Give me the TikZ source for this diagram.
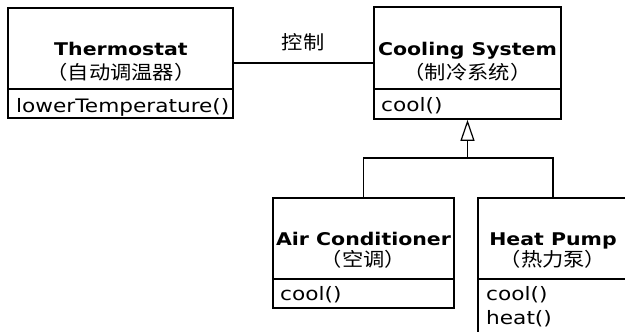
\documentclass[tikz,border=0pt]{standalone}
\usepackage{fontspec}
\setmainfont{DejaVu Sans}[FakeStretch=1.17]
\newfontfamily\cjk{Noto Sans CJK SC}[FakeStretch=1.12]
\usetikzlibrary{arrows.meta}
\begin{document}
\begin{tikzpicture}[x=1pt,y=-1pt,
  box/.style={draw=black,line width=1.6pt,rectangle,inner sep=0pt},
  ttl/.style={font=\fontsize{17.5}{20}\selectfont\bfseries,inner sep=0pt,anchor=base},
  cn/.style={font=\cjk\fontsize{19}{20}\selectfont,inner sep=0pt,anchor=base},
  mth/.style={font=\fontsize{18.5}{20}\selectfont,inner sep=0pt,anchor=base west},
  dv/.style={draw=black,line width=1.5pt},
  ln/.style={draw=black,line width=1.2pt}]
\useasboundingbox (0,0) rectangle (625,332);
\clip (0,0) rectangle (625,332);
% Thermostat
\node[box,minimum width=225pt,minimum height=110pt] (th) at (120.5,63) {};
\draw[dv] (8,89) -- (233,89);
\node[ttl] (thn) at (121,55) {Thermostat};
\node[cn] (thc) at (121,79.5) {（自动调温器）};
\node[mth] (thm) at (16,112) {lowerTemperature()};
% Cooling System
\node[box,minimum width=187pt,minimum height=112pt] (cs) at (467.5,63) {};
\draw[dv] (374,89) -- (561,89);
\node[ttl] (csn) at (467.5,55) {Cooling System};
\node[cn] (csc) at (467.5,79.5) {（制冷系统）};
\node[mth] (csm) at (381,111) {cool()};
% Air Conditioner
\node[box,minimum width=181pt,minimum height=110pt] (ac) at (363.5,253) {};
\draw[dv] (273,279) -- (454,279);
\node[ttl] (acn) at (363.5,245) {Air Conditioner};
\node[cn] (acc) at (363.5,266.5) {（空调）};
\node[mth] (acm) at (280,300) {cool()};
% Heat Pump (runs off the picture)
\node[box,minimum width=180pt,minimum height=160pt] (hp) at (568,278) {};
\draw[dv] (478,279) -- (658,279);
\node[ttl] (hpn) at (553,245) {Heat Pump};
\node[cn] (hpc) at (553,266.5) {（热力泵）};
\node[mth] (hpm1) at (486,300) {cool()};
\node[mth] (hpm2) at (486,324) {heat()};
% association
\draw[ln] (th.east) -- (cs.west);
\node[cn] (lbl) at (303,49.5) {控制};
% generalization
\coordinate (j) at (467.5,158);
\coordinate (hptop) at (553,198);
\draw[ln] (ac.north) |- (j) -| (hptop);
\draw[ln,-{Triangle[open,length=21pt,width=14pt,line width=1.2pt]}] (j) -- (cs.south);
\end{tikzpicture}
\end{document}
